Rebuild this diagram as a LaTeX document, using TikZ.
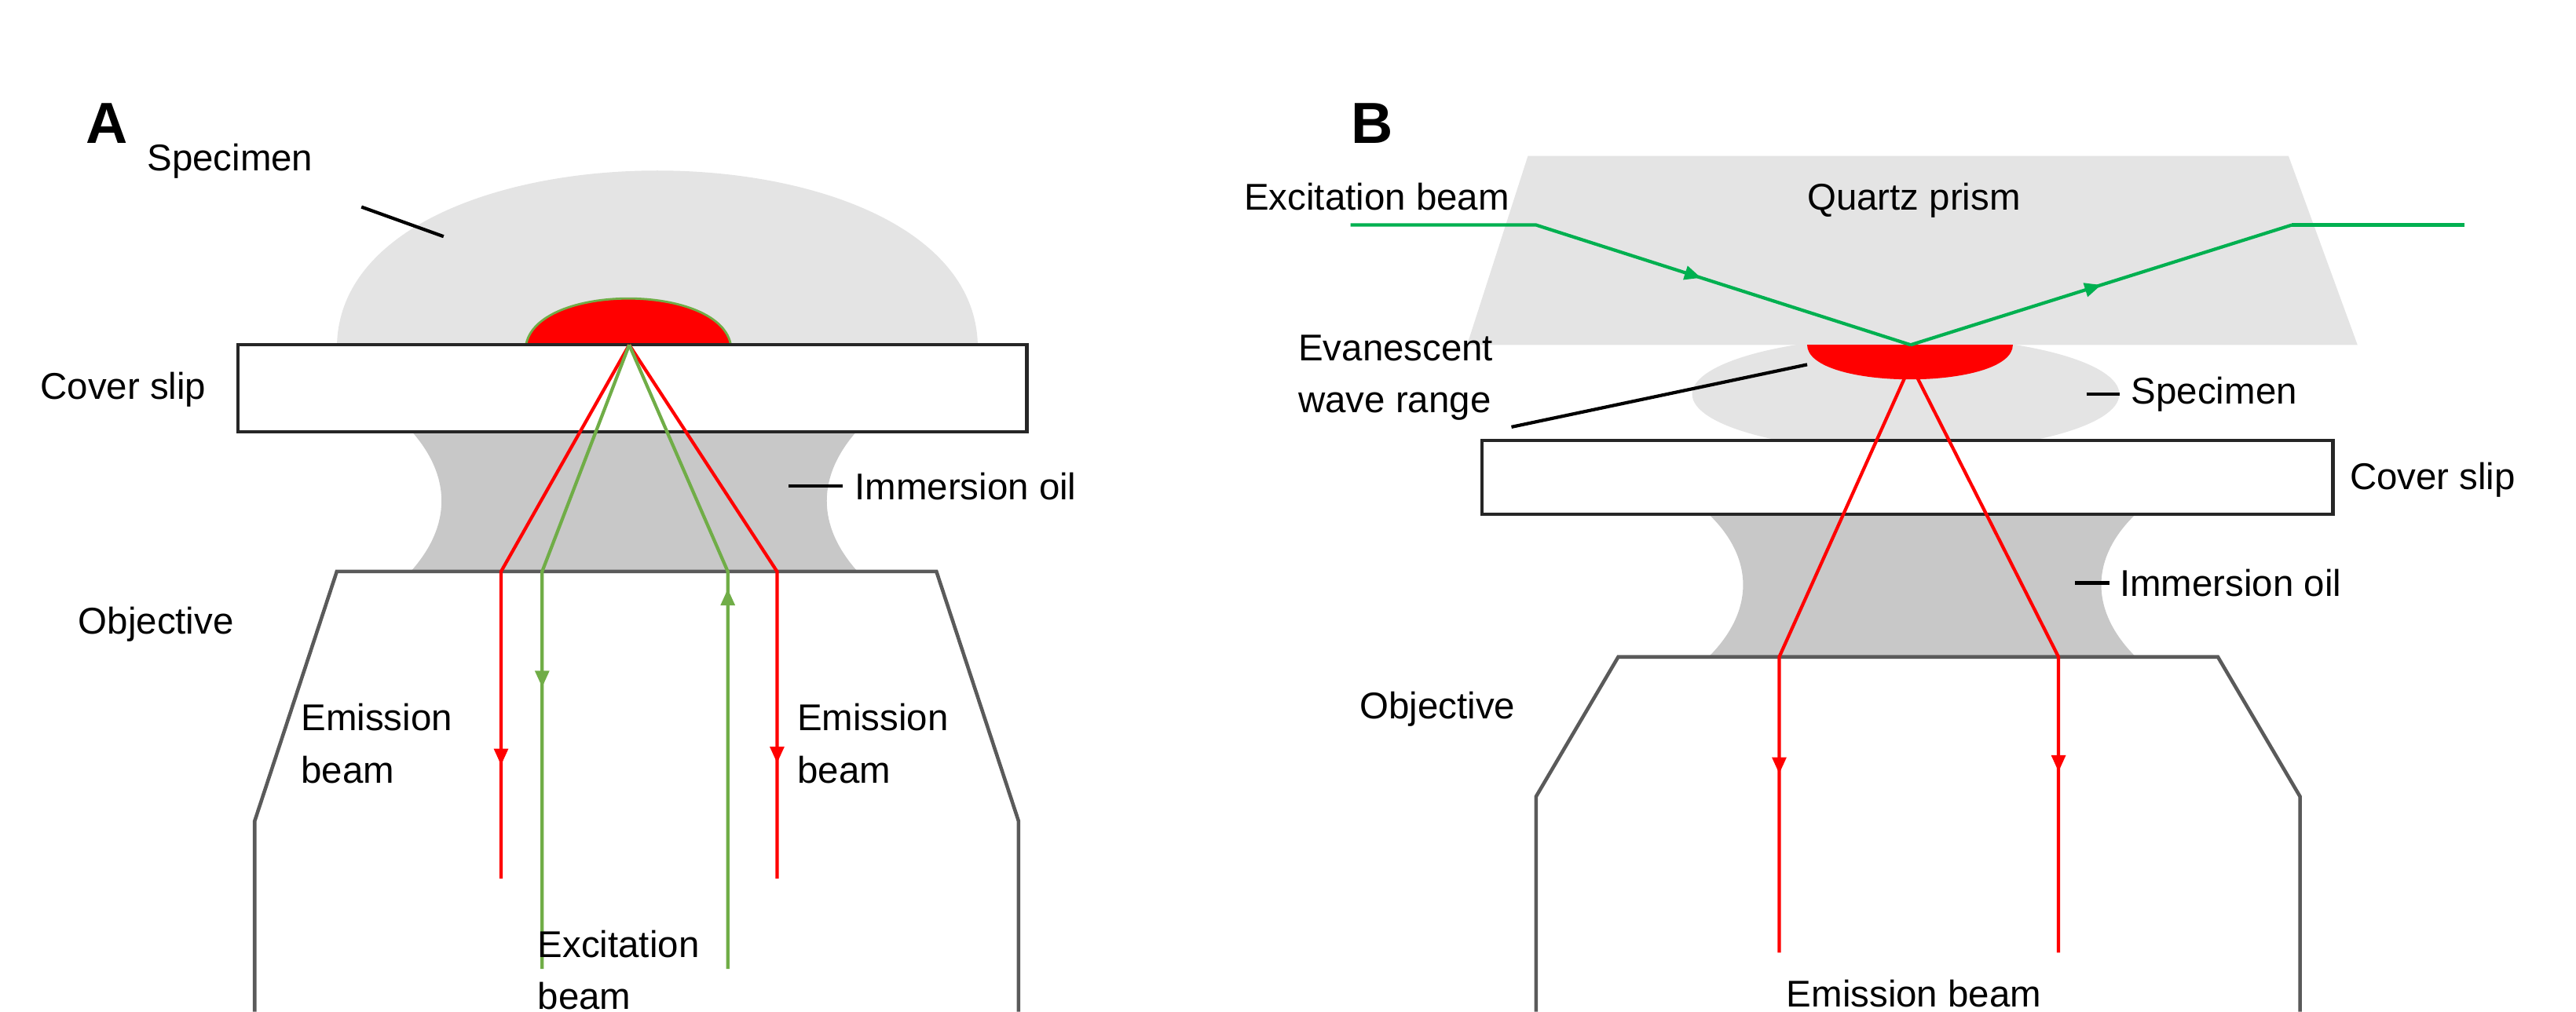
\documentclass[tikz,border=0pt]{standalone}
\usepackage{fontspec}
\setmainfont{Liberation Sans}
\usetikzlibrary{arrows.meta, decorations.markings}
\definecolor{specgray}{RGB}{228,228,228}
\definecolor{oilgray}{RGB}{200,200,200}
\definecolor{objgray}{RGB}{90,90,90}
\definecolor{exgreen}{RGB}{112,173,71}
\definecolor{prgreen}{RGB}{0,176,80}
\tikzstyle{lbl} = [font=\fontsize{13.5}{19}\selectfont, align=left, inner sep=0pt]
\tikzstyle{lead} = [black, line width=1.2pt]
\tikzstyle{slip} = [draw=black!85, fill=white, line width=1.2pt]
\tikzstyle{objective} = [draw=objgray, line width=1.3pt]
\tikzstyle{ray} = [line width=1.2pt]
\tikzstyle{midarrow} = [postaction={decorate}, decoration={markings, mark=at position #1 with {\arrow{Triangle[length=6pt,width=5pt]}}}]

\begin{document}
\begin{tikzpicture}[x=0.02092cm, y=-0.02092cm]
	\useasboundingbox (0,0) rectangle (1568,616);
	% panel A
	\node (labA) [font=\bfseries\fontsize{21}{23}\selectfont] at (65,75) {A};
	\fill [specgray] (205,212) .. controls (205,68) and (595,68) .. (595,212) -- cycle;
	\fill [oilgray] (250,262) .. controls (275,290) and (275,320) .. (250,348) -- (522,348) .. controls (497,320) and (497,290) .. (522,262) -- cycle;
	\draw [objective] (155,616) -- (155,500) -- (205,348) -- (570,348) -- (620,500) -- (620,616);
	\filldraw [fill=red, draw=exgreen, line width=0.8pt] (320,211) .. controls (325,172) and (440,172) .. (445,211) -- cycle;
	\draw [slip] (145,210) rectangle (625,263);
	\coordinate (fA) at (383,210);
	\draw [ray, red, midarrow=0.8] (fA) -- (305,348) -- (305,535);
	\draw [ray, red, midarrow=0.8] (fA) -- (473,348) -- (473,535);
	\draw [ray, exgreen, midarrow=0.56] (fA) -- (330,348) -- (330,590);
	\draw [ray, exgreen, midarrow=0.59] (443,590) -- (443,348) -- (fA);
	\node (specA) [lbl] at (140,98) {Specimen};
	\draw [lead] (220,126) -- (270,144);
	\node (coverA) [lbl] at (75,237) {Cover slip};
	\node (oilA) [lbl, anchor=west] at (520,296) {Immersion oil};
	\draw [lead] (480,296) -- (513,296);
	\node (objA) [lbl] at (95,380) {Objective};
	\node (emA1) [lbl, anchor=north west] at (183,428) {Emission\\beam};
	\node (emA2) [lbl, anchor=north west] at (485,428) {Emission\\beam};
	\node (exA) [lbl, anchor=north west] at (327,566) {Excitation\\beam};
	% panel B
	\node (labB) [font=\bfseries\fontsize{21}{23}\selectfont] at (835,75) {B};
	\fill [specgray] (930,95) -- (1393,95) -- (1435,210) -- (893,210) -- cycle;
	\fill [specgray] (1160,240) ellipse (130 and 35);
	\fill [oilgray] (1040,313) .. controls (1068,340) and (1068,372) .. (1040,400) -- (1300,400) .. controls (1272,372) and (1272,340) .. (1300,313) -- cycle;
	\draw [objective] (935,616) -- (935,485) -- (985,400) -- (1350,400) -- (1400,485) -- (1400,616);
	\fill [red] (1100,210) -- (1225,210) .. controls (1225,238) and (1100,238) .. (1100,210) -- cycle;
	\draw [slip] (902,268) rectangle (1420,313);
	\coordinate (fB) at (1163,222);
	\draw [ray, red, midarrow=0.71] (fB) -- (1083,400) -- (1083,580);
	\draw [ray, red, midarrow=0.71] (fB) -- (1253,400) -- (1253,580);
	\draw [ray, prgreen, midarrow=0.62] (822,137) -- (935,137) -- (1163,210);
	\draw [ray, prgreen, midarrow=0.5] (1163,210) -- (1395,137);
	\draw [ray, prgreen] (1395,137) -- (1500,137);
	\node (exB) [lbl] at (838,120) {Excitation beam};
	\node (prism) [lbl] at (1165,122) {Quartz prism};
	\node (evan) [lbl, anchor=west] at (790,230) {Evanescent\\wave range};
	\draw [lead] (920,260) -- (1100,222);
	\node (specB) [lbl, anchor=west] at (1297,240) {Specimen};
	\draw [lead] (1270,240) -- (1290,240);
	\node (coverB) [lbl, anchor=west] at (1430,292) {Cover slip};
	\node (oilB) [lbl, anchor=west] at (1290,355) {Immersion oil};
	\draw [lead] (1263,355) -- (1284,355);
	\node (objB) [lbl] at (875,432) {Objective};
	\node (emB) [lbl] at (1165,605) {Emission beam};
\end{tikzpicture}
\end{document}
